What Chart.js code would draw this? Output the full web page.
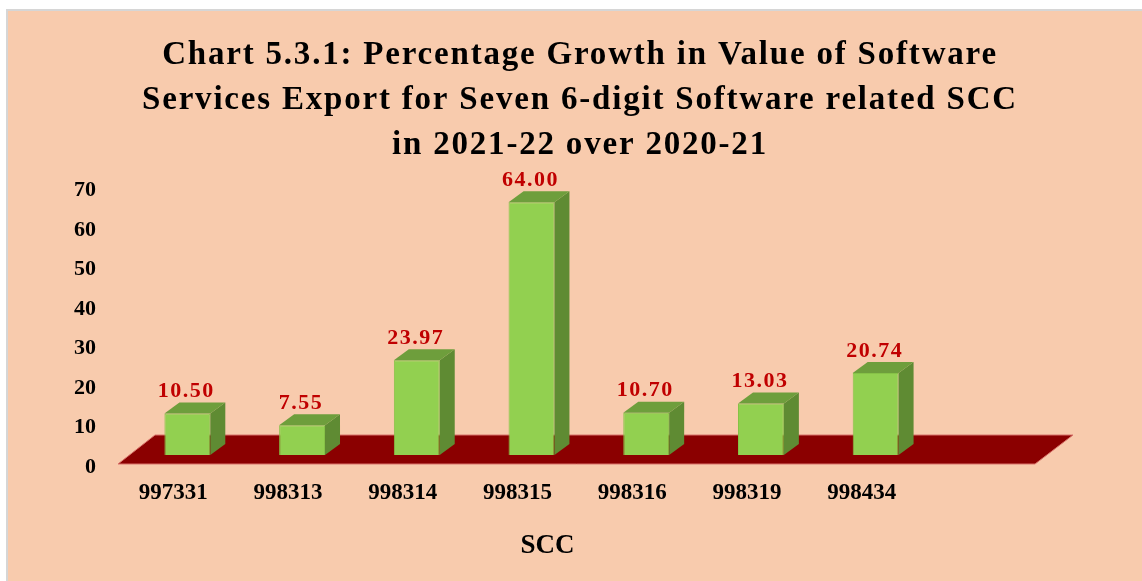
<!DOCTYPE html>
<html>
<head>
<meta charset="utf-8">
<title>Chart 5.3.1</title>
<script src="https://cdn.jsdelivr.net/npm/chart.js@4.4.1/dist/chart.umd.min.js"></script>
<style>
html, body { margin: 0; padding: 0; background: #ffffff; }
canvas { display: block; }
</style>
</head>
<body>
<canvas id="chart" width="1142" height="581"></canvas>
<script>
// data
const categories = ["997331", "998313", "998314", "998315", "998316", "998319", "998434"];
const growth = [10.50, 7.55, 23.97, 64.00, 10.70, 13.03, 20.74];
const yTicks = [0, 10, 20, 30, 40, 50, 60, 70];

const titleLines = [
  "Chart 5.3.1: Percentage Growth in Value of Software",
  "Services Export for Seven 6-digit Software related SCC",
  "in 2021-22 over 2020-21"
];
const axisTitle = "SCC";

const serif = "'Liberation Serif', 'Times New Roman', serif";

// fake 3d depth of the bars
const depthX = 15;
const depthY = 11;

// page frame + peach background
const backdrop = {
  id: "backdrop",
  beforeDraw(chart){
    const c = chart.ctx;
    c.save();
    c.fillStyle = "#ffffff";
    c.fillRect(0, 0, chart.width, chart.height);
    c.fillStyle = "#d6d6d6";
    c.fillRect(6, 9, chart.width - 6, chart.height - 9);
    c.fillStyle = "#f8cbad";
    c.fillRect(8, 11, chart.width - 8, chart.height - 11);
    c.restore();

    // the original title is set a little wider
    const tb = chart.titleBlock;
    if(tb && !tb._spaced){
      const draw = tb.draw.bind(tb);
      tb.draw = function(area){
        c.save();
        c.letterSpacing = "1.8px";
        draw(area);
        c.restore();
      };
      tb._spaced = true;
    }
  }
};

// dark red floor under the bars
const floor = {
  id: "floor",
  beforeDatasetsDraw(chart){
    const c = chart.ctx;
    const a = chart.chartArea;
    const y0 = chart.scales.y.getPixelForValue(0);
    const front = y0 + 9;
    const back = y0 - 20;
    c.save();
    c.beginPath();
    c.moveTo(a.left - 12, front);
    c.lineTo(a.left + 25, back);
    c.lineTo(a.right + 140, back);
    c.lineTo(a.right + 102, front);
    c.closePath();
    c.fillStyle = "#8b0000";
    c.fill();
    c.lineWidth = 1;
    c.strokeStyle = "#d9736a";
    c.stroke();
    c.restore();
  }
};

// side + top faces and the red value labels
const faces = {
  id: "faces",
  afterDatasetsDraw(chart){
    const c = chart.ctx;
    const meta = chart.getDatasetMeta(0);
    c.save();
    meta.data.forEach((bar, i) => {
      const l = bar.x - bar.width / 2;
      const r = bar.x + bar.width / 2;
      const t = bar.y;
      const b = bar.base;

      c.beginPath();
      c.moveTo(r, t);
      c.lineTo(r + depthX, t - depthY);
      c.lineTo(r + depthX, b - depthY);
      c.lineTo(r, b);
      c.closePath();
      c.fillStyle = "#5f8b33";
      c.fill();

      c.beginPath();
      c.moveTo(l, t);
      c.lineTo(l + depthX, t - depthY);
      c.lineTo(r + depthX, t - depthY);
      c.lineTo(r, t);
      c.closePath();
      c.fillStyle = "#6e9e3c";
      c.fill();

      c.fillStyle = "#c00000";
      c.font = "bold 22px " + serif;
      c.letterSpacing = "1.5px";
      c.textAlign = "center";
      c.textBaseline = "alphabetic";
      c.fillText(growth[i].toFixed(2), bar.x - 1, t - 16.5);
    });
    c.restore();
  },
  afterDraw(chart){
    // axis title sits a bit right of the plot centre in the original
    const c = chart.ctx;
    const a = chart.chartArea;
    c.save();
    c.fillStyle = "#000000";
    c.font = "bold 27px " + serif;
    c.textAlign = "center";
    c.textBaseline = "middle";
    c.fillText(axisTitle, (a.left + a.right) / 2 + 16, chart.height - 35);
    c.restore();
  }
};

const ctx = document.getElementById("chart");

const chart = new Chart(ctx, {
  type: "bar",
  data: {
    labels: categories,
    datasets: [{
      label: "Percentage Growth",
      data: growth,
      backgroundColor: "#92d050",
      borderColor: "#86c247",
      borderWidth: 1,
      barPercentage: 0.4,
      categoryPercentage: 1.0
    }]
  },
  options: {
    responsive: false,
    devicePixelRatio: 1,
    animation: false,
    layout: {
      padding: { left: 26, right: 8, top: 0, bottom: 0 }
    },
    plugins: {
      legend: { display: false },
      tooltip: { enabled: false },
      title: {
        display: true,
        text: titleLines,
        color: "#000000",
        font: { family: serif, size: 33, weight: "bold", lineHeight: 1.36 },
        padding: { top: 33, bottom: 11 }
      }
    },
    scales: {
      x: {
        offset: true,
        grid: { display: false, drawTicks: false },
        border: { display: false },
        ticks: {
          color: "#000000",
          font: { family: serif, size: 23, weight: "bold" },
          padding: 24,
          labelOffset: -14,
          maxRotation: 0
        },
        afterFit(scale){
          scale.height = 126;
        }
      },
      y: {
        min: yTicks[0],
        max: yTicks[yTicks.length - 1],
        grid: { display: false, drawTicks: false },
        border: { display: false },
        afterBuildTicks(scale){
          scale.ticks = yTicks.map(v => ({ value: v }));
        },
        ticks: {
          color: "#000000",
          font: { family: serif, size: 22, weight: "bold" },
          padding: 34,
          labelOffset: 12
        },
        afterFit(scale){
          scale.width = 104;
        }
      },
      // empty strip on the right where the floor runs on
      room: {
        position: "right",
        grid: { display: false, drawTicks: false },
        border: { display: false },
        ticks: { display: false },
        afterFit(scale){
          scale.width = 201;
        }
      }
    }
  },
  plugins: [backdrop, floor, faces]
});
</script>
</body>
</html>
